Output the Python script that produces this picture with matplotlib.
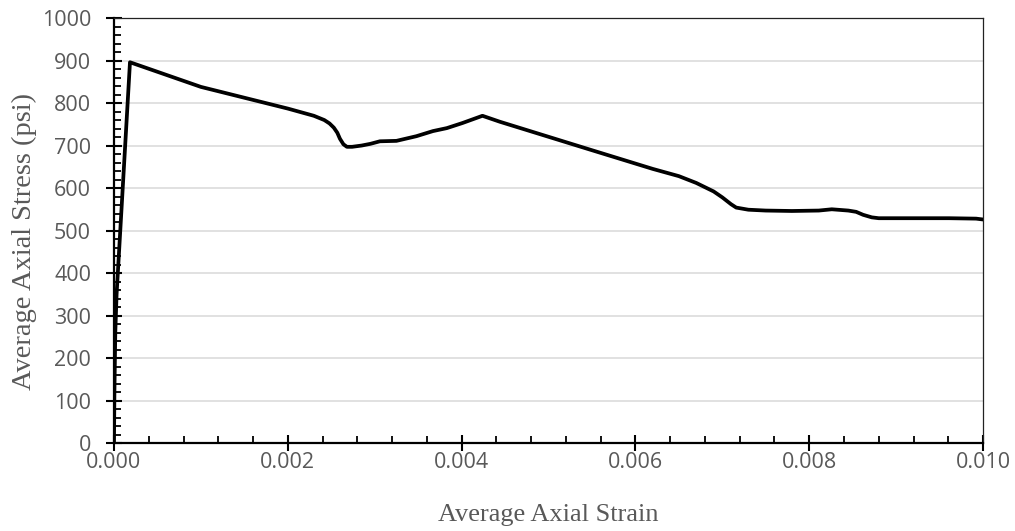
import matplotlib
matplotlib.use("Agg")
import matplotlib.pyplot as plt
from matplotlib.ticker import MultipleLocator, FormatStrFormatter

# strain / stress
strain = [0.0, 0.000005, 0.000015, 0.00003, 0.000184, 0.0010, 0.0020, 0.0023,
          0.00242, 0.00248, 0.00253, 0.00257, 0.0026, 0.00264, 0.00268, 0.00274,
          0.00285, 0.00295, 0.00306, 0.00325, 0.00348, 0.00367, 0.00383,
          0.00401, 0.00424, 0.00444, 0.0055, 0.0062, 0.0065, 0.0067, 0.0069,
          0.0070, 0.0071, 0.00716, 0.0073, 0.0075, 0.0078, 0.00811, 0.00826,
          0.00845, 0.00854, 0.00862, 0.00872, 0.0088, 0.00903, 0.00961,
          0.00992, 0.0100]
stress = [0, 120, 260, 350, 896, 838, 787, 770,
          760, 752, 742, 730, 716, 703, 697, 697,
          700, 704, 710, 711, 722, 734, 741,
          753, 770, 756, 689, 645, 628, 612, 592,
          578, 562, 554, 549, 547, 546, 547, 550,
          547, 544, 537, 531, 529, 529, 529,
          528, 526]

gray = "#595959"

fig = plt.figure(figsize=(10.15, 5.31), dpi=100)
ax = fig.add_axes([0.1123, 0.1657, 0.8562, 0.8003])

ax.plot(strain, stress, color="black", linewidth=2.7, solid_joinstyle="round", zorder=3)

ax.set_xlim(0, 0.010)
ax.set_ylim(0, 1000)
ax.xaxis.set_major_locator(MultipleLocator(0.002))
ax.xaxis.set_minor_locator(MultipleLocator(0.0004))
ax.xaxis.set_major_formatter(FormatStrFormatter("%.3f"))
ax.yaxis.set_major_locator(MultipleLocator(100))
ax.yaxis.set_minor_locator(MultipleLocator(20))

ax.grid(axis="y", which="major", color="#d9d9d9", linewidth=1.1, zorder=0)
ax.set_axisbelow(True)

for side in ["left", "bottom"]:
    ax.spines[side].set_linewidth(1.6)
    ax.spines[side].set_color("black")
for side in ["top", "right"]:
    ax.spines[side].set_linewidth(0.9)
    ax.spines[side].set_color("#222222")

ax.tick_params(axis="both", which="major", direction="inout", length=11, width=1.5,
               color="black", labelcolor=gray, labelsize=15.5)
ax.tick_params(axis="both", which="minor", direction="in", length=5, width=1.3, color="black")
ax.tick_params(axis="x", which="major", pad=1)
ax.tick_params(axis="y", which="major", pad=11)
for lab in ax.get_xticklabels() + ax.get_yticklabels():
    lab.set_fontfamily("Open Sans")

ax.set_xlabel("Average Axial Strain", fontfamily="Liberation Serif", fontsize=19,
              color=gray, labelpad=22)
ax.set_ylabel("Average Axial Stress (psi)", fontfamily="Liberation Serif", fontsize=20.5,
              color=gray)
ax.yaxis.set_label_coords(-0.089, 0.475)

fig.savefig("out.png", dpi=100)
